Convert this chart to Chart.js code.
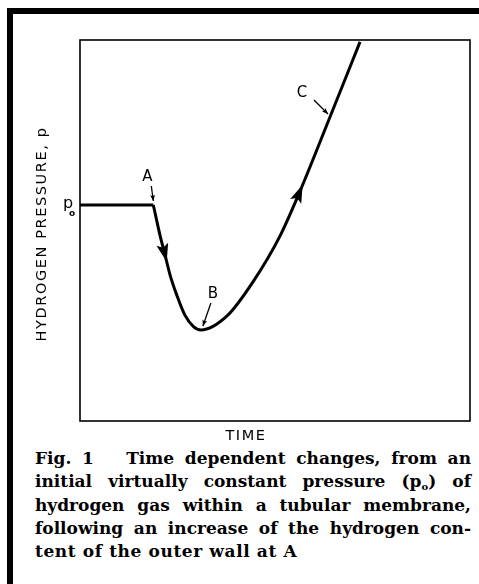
<!DOCTYPE html>
<html>
<head>
<meta charset="utf-8">
<script src="https://cdn.jsdelivr.net/npm/chart.js@4.4.1/dist/chart.umd.min.js"></script>
<style>
  html, body { margin: 0; padding: 0; background: #fff; }
  body { width: 479px; height: 584px; position: relative; overflow: hidden; }
  #frame { position: absolute; left: 7px; top: 8px; width: 490px; height: 600px;
           border-top: 6px solid #000; border-left: 6px solid #000; }
  #plot { position: absolute; left: 0; top: 0; }
  #caption { position: absolute; left: 35px; top: 447px; width: 436px;
             font: bold 17px "DejaVu Serif", serif; line-height: 23.3px; color: #000; }
  #caption .ln { text-align: justify; text-align-last: justify; height: 23.3px; }
  #caption .ln.last { text-align-last: left; letter-spacing: 0.6px; }
  #caption sub { font-size: 10px; line-height: 0; vertical-align: -3px; }
</style>
</head>
<body>
<div id="frame"></div>
<canvas id="plot" width="479" height="445"></canvas>
<div id="caption">
  <div class="ln">Fig. 1&nbsp;&nbsp; Time dependent changes, from an</div>
  <div class="ln">initial virtually constant pressure (p<sub>o</sub>) of</div>
  <div class="ln">hydrogen gas within a tubular membrane,</div>
  <div class="ln">following an increase of the hydrogen con-</div>
  <div class="ln last">tent of the outer wall at A</div>
</div>
<script>
// ── data (axis units 0..100, no scale printed on the original) ──────────────
const flatTime = [0, 18.8];
const flatPressure = [56.7, 56.7];

const curveTime = [18.8, 20.5, 21.8, 23.1, 24.8, 26.9, 29.1, 31.0, 37.7, 44.4, 51.3, 56.4, 64.1, 71.8];
const curvePressure = [56.7, 48.8, 43.6, 38.3, 33.1, 27.8, 24.8, 23.9, 27.6, 36.6, 48.6, 60.3, 79.8, 99.5];

// direction arrows sit on these curve points
const flowArrowIdx = [2, 11];

// lettered points on the curve
const markLetters = ['A', 'B', 'C'];
const markIdx = [0, 7, 12];

const xTitle = 'TIME';
const yTitle = 'HYDROGEN PRESSURE, p';

const toXY = (xs, ys) => xs.map((x, i) => ({ x, y: ys[i] }));

// pixel offsets of the letter / pointer from its target point
const markOffsets = {
    A: { label: [-6, -28], from: [-2, -19], to: [0, -4] },
    B: { label: [12, -36], from: [10, -27], to: [2, -4] },
    C: { label: [-28, -24], from: [-16, -17], to: [-2, -3] }
};

function arrowHead(ctx, x, y, ang, len, half) {
    ctx.save();
    ctx.translate(x, y);
    ctx.rotate(ang);
    ctx.beginPath();
    ctx.moveTo(0, 0);
    ctx.lineTo(-len, -half);
    ctx.lineTo(-len * 0.8, 0);
    ctx.lineTo(-len, half);
    ctx.closePath();
    ctx.fill();
    ctx.restore();
}

const decor = {
    id: 'decor',
    afterDatasetsDraw(chart) {
        const { ctx, chartArea: a, scales: { x, y } } = chart;
        ctx.save();
        ctx.strokeStyle = '#000';
        ctx.fillStyle = '#000';

        // plot box
        ctx.lineWidth = 1.6;
        ctx.strokeRect(a.left, a.top, a.right - a.left, a.bottom - a.top);

        // flow arrows along the curve
        flowArrowIdx.forEach(i => {
            const px = x.getPixelForValue(curveTime[i]);
            const py = y.getPixelForValue(curvePressure[i]);
            const qx = x.getPixelForValue(curveTime[i + 1]);
            const qy = y.getPixelForValue(curvePressure[i + 1]);
            const rx = x.getPixelForValue(curveTime[i - 1]);
            const ry = y.getPixelForValue(curvePressure[i - 1]);
            const ang = Math.atan2(qy - ry, qx - rx);
            arrowHead(ctx, px + Math.cos(ang) * 7, py + Math.sin(ang) * 7, ang, 18, 6);
        });

        // letters with small pointers
        ctx.font = '15px "DejaVu Sans", sans-serif';
        ctx.textAlign = 'center';
        ctx.textBaseline = 'middle';
        markLetters.forEach((L, k) => {
            const i = markIdx[k];
            const tx = x.getPixelForValue(curveTime[i]);
            const ty = y.getPixelForValue(curvePressure[i]);
            const o = markOffsets[L];
            const fx = tx + o.from[0], fy = ty + o.from[1];
            const ex = tx + o.to[0], ey = ty + o.to[1];
            ctx.lineWidth = 1.3;
            ctx.beginPath();
            ctx.moveTo(fx, fy);
            ctx.lineTo(ex, ey);
            ctx.stroke();
            arrowHead(ctx, ex, ey, Math.atan2(ey - fy, ex - fx), 6, 2.5);
            ctx.fillText(L, tx + o.label[0], ty + o.label[1]);
        });

        // p with subscript o beside the flat level
        const p0 = y.getPixelForValue(flatPressure[0]);
        ctx.font = '16px "DejaVu Sans", sans-serif';
        ctx.fillText('p', a.left - 12, p0 - 1);
        ctx.font = 'bold 9px "DejaVu Sans", sans-serif';
        ctx.fillText('o', a.left - 8, p0 + 9);

        // axis titles
        ctx.font = '14.5px "DejaVu Sans", sans-serif';
        ctx.letterSpacing = '1.6px';
        ctx.fillText(xTitle, 246, a.bottom + 15);
        ctx.translate(42, 234);
        ctx.rotate(-Math.PI / 2);
        ctx.fillText(yTitle, 0, 0);
        ctx.restore();
    }
};

new Chart(document.getElementById('plot'), {
    type: 'line',
    data: {
        datasets: [
            { data: toXY(flatTime, flatPressure), borderColor: '#000', borderWidth: 3, tension: 0 },
            { data: toXY(curveTime, curvePressure), borderColor: '#000', borderWidth: 3,
              cubicInterpolationMode: 'monotone' }
        ]
    },
    options: {
        responsive: false,
        animation: false,
        layout: { padding: { left: 80, top: 40, right: 9, bottom: 24 } },
        elements: { point: { radius: 0 } },
        plugins: { legend: { display: false }, tooltip: { enabled: false } },
        scales: {
            x: { type: 'linear', min: 0, max: 100, display: false },
            y: { min: 0, max: 100, display: false }
        }
    },
    plugins: [decor]
});
</script>
</body>
</html>
